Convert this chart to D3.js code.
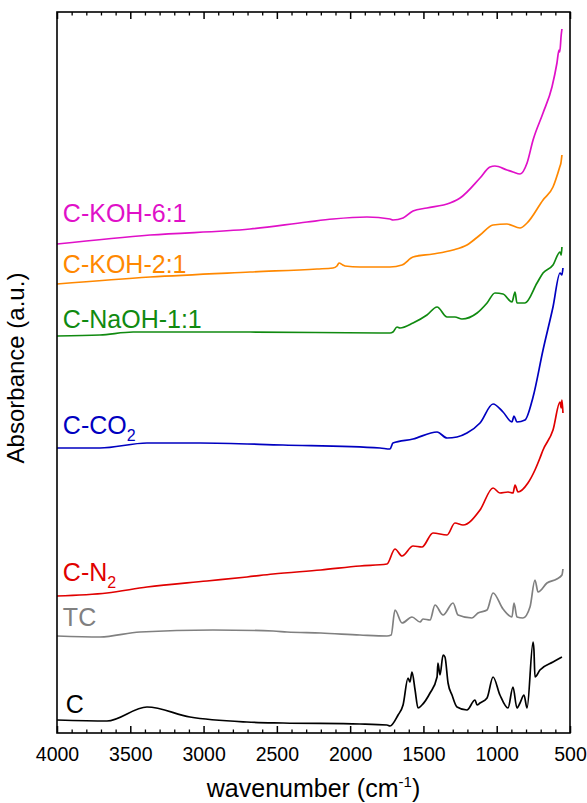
<!DOCTYPE html>
<html><head><meta charset="utf-8">
<script src="https://cdn.jsdelivr.net/npm/d3@7"></script>
<style>body{margin:0;background:#fff}svg{display:block}text{font-family:Arial,"Liberation Sans",sans-serif}</style>
</head><body><div id="chart"></div>
<script>
// wavenumber (cm-1) / absorbance (a.u., offset-stacked)
const C_wn = [4000,3659,3386,3093,2704,2458,1933,1749,1728,1673,1639,1605,1592,1578,1557,1537,1510,1455,1407,1401,1387,1366,1353,1332,1305,1271,1203,1148,1134,1114,1066,1025,978,923,889,862,841,814,793,752,746,739,705,616,555];
const C_ab = [0.13,0.12,0.26,0.16,0.11,0.10,0.09,0.08,0.07,0.18,0.28,0.55,0.51,0.61,0.43,0.25,0.28,0.40,0.56,0.70,0.58,0.78,0.76,0.50,0.38,0.26,0.23,0.33,0.28,0.30,0.35,0.56,0.38,0.25,0.46,0.25,0.30,0.38,0.25,0.91,0.83,0.56,0.63,0.71,0.76];

const TC_wn = [4000,3707,3434,2936,2526,2431,2200,1933,1749,1720,1694,1646,1578,1523,1503,1455,1421,1366,1298,1264,1169,1128,1066,1025,957,896,882,862,821,773,739,718,657,590,555,548];
const TC_ab = [0.97,0.96,1.01,1.03,1.02,1.01,1.00,0.98,0.97,0.98,1.23,1.10,1.16,1.11,1.14,1.13,1.28,1.18,1.30,1.18,1.15,1.20,1.23,1.40,1.24,1.16,1.30,1.16,1.15,1.26,1.53,1.41,1.50,1.54,1.58,1.64];

const N2_wn = [4000,3659,3386,2977,2704,2526,2200,1933,1749,1694,1646,1571,1510,1435,1339,1285,1230,1114,1025,978,923,889,875,855,787,739,705,684,616,568,560,555,548];
const N2_ab = [1.37,1.40,1.46,1.52,1.56,1.59,1.63,1.67,1.69,1.84,1.77,1.87,1.86,2.00,1.98,2.10,2.08,2.23,2.45,2.40,2.41,2.40,2.48,2.41,2.50,2.63,2.75,2.83,3.03,3.31,3.25,3.33,3.20];

const CO2_wn = [4000,3707,3386,3024,2458,1796,1728,1708,1571,1407,1339,1271,1203,1114,1025,957,896,882,862,807,752,684,616,568,555,548];
const CO2_ab = [2.85,2.85,2.90,2.90,2.88,2.85,2.84,2.90,2.94,3.01,2.95,2.96,3.00,3.10,3.29,3.21,3.11,3.17,3.11,3.13,3.36,3.83,4.26,4.60,4.58,4.65];

const NaOH_wn = [4000,3707,3481,2683,1796,1728,1708,1680,1660,1571,1476,1407,1339,1285,1237,1134,1066,1012,957,896,875,862,807,725,684,616,568,560,555];
const NaOH_ab = [3.97,3.98,4.01,4.01,4.00,4.00,4.01,4.06,4.05,4.10,4.18,4.26,4.16,4.16,4.14,4.20,4.30,4.40,4.39,4.31,4.41,4.30,4.30,4.50,4.60,4.68,4.81,4.78,4.86];

const KOH2_wn = [4000,3365,2683,2226,2117,2090,2076,2050,2035,1933,1728,1646,1571,1435,1298,1203,1114,1025,930,841,793,684,616,570,562,555];
const KOH2_ab = [4.49,4.56,4.61,4.64,4.65,4.67,4.70,4.68,4.67,4.66,4.66,4.68,4.76,4.79,4.83,4.88,4.98,5.08,5.09,5.05,5.10,5.33,5.46,5.66,5.70,5.78];

const KOH6_wn = [4000,3365,2683,2294,2117,1885,1728,1708,1639,1571,1476,1319,1273,1250,1114,1046,1012,930,889,841,793,752,684,623,589,575,570,560,555];
const KOH6_ab = [4.89,4.98,5.04,5.11,5.14,5.16,5.14,5.13,5.15,5.22,5.25,5.30,5.33,5.35,5.55,5.66,5.67,5.63,5.61,5.59,5.70,5.93,6.20,6.46,6.70,6.83,6.81,6.98,7.04];

const seriesNames = ["C","TC","C-N2","C-CO2","C-NaOH-1:1","C-KOH-2:1","C-KOH-6:1"];
const seriesColors = ["#000000","#808080","#e00000","#0000c0","#108a10","#ff8800","#e010c8"];
const labelMain = ["C","TC","C-N","C-CO","C-NaOH-1:1","C-KOH-2:1","C-KOH-6:1"];
const labelSub = ["","","2","2","","",""];
const labelAb = [0.20,1.07,1.52,2.99,4.05,4.60,5.11];
const labelWn = [3940,3960,3960,3960,3960,3960,3960];
const xTicks = [4000,3500,3000,2500,2000,1500,1000,500];

const W = 587, H = 803;
const m = {left:57, right:17, top:12, bottom:70};
const svg = d3.select("#chart").append("svg").attr("width",W).attr("height",H);
const x = d3.scaleLinear().domain([4000,500]).range([m.left, W-m.right]);
const y = d3.scaleLinear().domain([0,7.21]).range([H-m.bottom, m.top]);

const data = [[C_wn,C_ab],[TC_wn,TC_ab],[N2_wn,N2_ab],[CO2_wn,CO2_ab],[NaOH_wn,NaOH_ab],[KOH2_wn,KOH2_ab],[KOH6_wn,KOH6_ab]];
const line = d3.line().x(d=>x(d[0])).y(d=>y(d[1])).curve(d3.curveMonotoneX);
data.forEach((s,i)=>{
  const pts = s[0].map((w,j)=>[w,s[1][j]]).sort((a,b)=>b[0]-a[0]);
  svg.append("path").datum(pts).attr("d",line).attr("fill","none")
    .attr("stroke",seriesColors[i]).attr("stroke-width",1.7).attr("stroke-linejoin","round");
  const t = svg.append("text").attr("x",x(labelWn[i])).attr("y",y(labelAb[i]))
    .attr("fill",seriesColors[i]).attr("font-size",25).text(labelMain[i]);
  if(labelSub[i]) t.append("tspan").attr("font-size",16).attr("dy",7).text(labelSub[i]);
});

// frame
const pw = W-m.left-m.right, ph = H-m.top-m.bottom;
svg.append("rect").attr("x",m.left).attr("y",m.top).attr("width",pw).attr("height",ph)
  .attr("fill","none").attr("stroke","#000").attr("stroke-width",1.6);

const minor = d3.range(3900,500,-100).filter(v=>v%500!==0);
function axes(g, gen){
  g.call(gen.tickValues(xTicks).tickSize(-7).tickFormat(d3.format("d")));
  g.select(".domain").remove();
  g.selectAll(".tick line").attr("stroke","#000").attr("stroke-width",1.5);
}
const gb = svg.append("g").attr("transform",`translate(0,${H-m.bottom})`);
axes(gb, d3.axisBottom(x));
gb.selectAll(".tick text").attr("font-size",19.5).attr("fill","#000").attr("dy","1.3em").style("font-family","Arial, 'Liberation Sans', sans-serif");
const gt = svg.append("g").attr("transform",`translate(0,${m.top})`);
axes(gt, d3.axisTop(x));
gt.selectAll(".tick text").remove();
// minor ticks
const gmb = svg.append("g").attr("transform",`translate(0,${H-m.bottom})`);
gmb.call(d3.axisBottom(x).tickValues(minor).tickSize(-3.5).tickFormat(""));
gmb.select(".domain").remove(); gmb.selectAll(".tick line").attr("stroke","#000").attr("stroke-width",1.3);
const gmt = svg.append("g").attr("transform",`translate(0,${m.top})`);
gmt.call(d3.axisTop(x).tickValues(minor).tickSize(-3.5).tickFormat(""));
gmt.select(".domain").remove(); gmt.selectAll(".tick line").attr("stroke","#000").attr("stroke-width",1.3);

// titles
const xt = svg.append("text").attr("x",m.left+pw/2).attr("y",797).attr("text-anchor","middle").attr("font-size",25).attr("fill","#000").text("wavenumber (cm");
xt.append("tspan").attr("font-size",15).attr("dy",-10).text("-1");
xt.append("tspan").attr("dy",10).text(")");
svg.append("text").attr("transform","translate(24,368) rotate(-90)").attr("text-anchor","middle").attr("font-size",24).attr("fill","#000").text("Absorbance (a.u.)");
</script></body></html>
